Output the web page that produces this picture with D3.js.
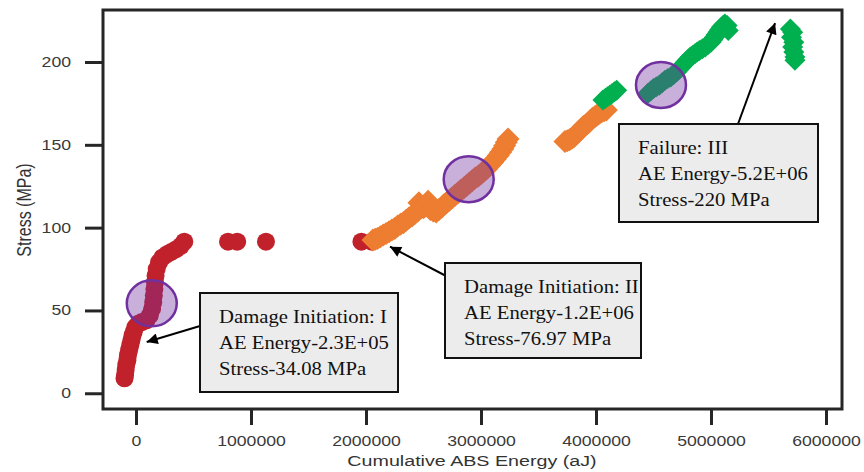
<!DOCTYPE html>
<html>
<head>
<meta charset="utf-8">
<script src="https://cdn.jsdelivr.net/npm/d3@7"></script>
<style>
  html, body { margin: 0; padding: 0; background: #fff; }
  svg { display: block; }
</style>
</head>
<body>
<svg id="chart" width="864" height="472"></svg>
<script>
// Stage I: damage initiation (cumulative ABS energy in aJ, stress in MPa)
const stageI = [
  [-100000, 9], [-95000, 11], [-90000, 14], [-85000, 17], [-75000, 20], [-70000, 23],
  [-60000, 26], [-50000, 29], [-40000, 32], [-30000, 35], [-20000, 37], [-5000, 40],
  [20000, 42], [50000, 43], [90000, 44], [120000, 47], [140000, 51], [150000, 55],
  [155000, 59], [160000, 63], [165000, 67], [170000, 71], [180000, 75], [200000, 79],
  [230000, 82], [270000, 84], [310000, 85.5], [350000, 87], [390000, 89], [420000, 91.5],
  [800000, 91.5], [880000, 91.5], [1130000, 91.5], [1960000, 91.5], [2050000, 91.5]
];

// Stage II: damage growth
const stageII = [
  [2060000, 92.5], [2080000, 93], [2100000, 93.5], [2125000, 94.5], [2150000, 95.5], [2175000, 96.5],
  [2200000, 97.5], [2225000, 98.5], [2250000, 99.5], [2275000, 101], [2300000, 102], [2325000, 103],
  [2350000, 104.5], [2375000, 106], [2400000, 107], [2425000, 108.5], [2450000, 110], [2460000, 115],
  [2480000, 112], [2500000, 112], [2520000, 113], [2540000, 116], [2560000, 111], [2585000, 110],
  [2610000, 109.5], [2635000, 111], [2660000, 112.5], [2680000, 114], [2700000, 115], [2725000, 116.5],
  [2750000, 118], [2775000, 119.5], [2800000, 121], [2825000, 122.5], [2850000, 124], [2875000, 125.5],
  [2900000, 127], [2925000, 128.5], [2950000, 130], [2975000, 131], [3000000, 132.5], [3025000, 134],
  [3050000, 135.5], [3075000, 137.5], [3100000, 139.5], [3125000, 141.5], [3150000, 143.5], [3170000, 145.5],
  [3190000, 147.5], [3205000, 149.5], [3220000, 151.5], [3235000, 153.5],
  [3730000, 152], [3750000, 152.5], [3770000, 153], [3790000, 154], [3810000, 155], [3830000, 156.5],
  [3850000, 158], [3870000, 159.5], [3890000, 161], [3910000, 162], [3930000, 163], [3950000, 164.5],
  [3970000, 166], [3990000, 167], [4010000, 168], [4030000, 169], [4050000, 170], [4070000, 170.5],
  [4090000, 171]
];

// Stage III: failure
const stageIII = [
  [4060000, 177], [4080000, 178], [4100000, 179], [4120000, 180], [4140000, 181], [4160000, 182],
  [4180000, 183],
  [4450000, 181], [4475000, 182.5], [4500000, 184], [4525000, 185], [4550000, 186], [4575000, 187.5],
  [4600000, 189], [4625000, 190], [4650000, 191], [4675000, 192.5], [4700000, 194], [4720000, 195.5],
  [4740000, 197], [4760000, 198.5], [4780000, 200], [4800000, 201.5], [4820000, 203], [4840000, 204],
  [4860000, 205], [4880000, 206], [4900000, 207], [4925000, 208], [4950000, 209], [4975000, 210.5],
  [5000000, 212], [5015000, 213.5], [5030000, 215], [5045000, 216.5], [5060000, 218], [5075000, 219.5],
  [5090000, 221], [5105000, 222], [5120000, 223], [5140000, 222], [5150000, 219],
  [5690000, 220], [5710000, 218], [5700000, 215], [5720000, 212], [5710000, 209], [5720000, 206],
  [5730000, 203], [5730000, 201]
];

// Highlighted transition regions
const transitionCenters = [[137000, 54.3], [2893000, 129.2], [4565000, 186.1]];

// Axis ticks
const xTicks = [0, 1000000, 2000000, 3000000, 4000000, 5000000, 6000000];
const yTicks = [0, 50, 100, 150, 200];

// Callout texts and the points they point to
const calloutLines = [
  ["Damage Initiation: I", "AE Energy-2.3E+05", "Stress-34.08 MPa"],
  ["Damage Initiation: II", "AE Energy-1.2E+06", "Stress-76.97 MPa"],
  ["Failure: III", "AE Energy-5.2E+06", "Stress-220 MPa"]
];
const calloutTargets = [[93000, 31], [2209000, 88.5], [5557000, 223.5]];

// ---- layout & style ----
const RED = "#c0212b", ORANGE = "#ed7d31", GREEN = "#00b04f";
const AXIS = "#262626";
const SANS = "'Liberation Sans', Arial, Helvetica, sans-serif";
const SERIF = "'Liberation Serif', 'Times New Roman', serif";
const STRETCH = 1.26;

const callouts = [
  { x: 200, y: 293, w: 198, h: 99, tail: [200, 326] },
  { x: 445, y: 263, w: 196, h: 95, tail: [448, 277] },
  { x: 619, y: 124, w: 199, h: 98, tail: [738, 124] }
];

const svg = d3.select("#chart");
const x = d3.scaleLinear().domain([-287000, 6139000]).range([103, 842]);
const y = d3.scaleLinear().domain([-9.5, 231.4]).range([409, 10]);

// axes
const gx = svg.append("g")
  .attr("transform", "translate(0,409)")
  .call(d3.axisBottom(x).tickValues(xTicks).tickFormat(d3.format("d"))
    .tickSize(16).tickPadding(11).tickSizeOuter(0));
gx.select(".domain").remove();
gx.selectAll(".tick line").attr("stroke", AXIS).attr("stroke-width", 3);
gx.selectAll(".tick text")
  .attr("font-family", SANS).attr("font-size", 14).attr("fill", "#3a3a3a")
  .attr("transform", `scale(${STRETCH},1)`);

const gy = svg.append("g")
  .attr("transform", "translate(103,0)")
  .call(d3.axisLeft(y).tickValues(yTicks).tickFormat(d3.format("d"))
    .tickSize(18).tickPadding(14).tickSizeOuter(0));
gy.select(".domain").remove();
gy.selectAll(".tick line").attr("stroke", AXIS).attr("stroke-width", 3);
gy.selectAll(".tick text")
  .attr("font-family", SANS).attr("font-size", 14).attr("fill", "#3a3a3a")
  .attr("x", -32 / STRETCH)
  .attr("transform", `scale(${STRETCH},1)`);

// plot frame
svg.append("rect")
  .attr("x", x.range()[0]).attr("y", y.range()[1])
  .attr("width", x.range()[1] - x.range()[0])
  .attr("height", y.range()[0] - y.range()[1])
  .attr("fill", "none").attr("stroke", AXIS).attr("stroke-width", 3);

// axis titles
svg.append("text")
  .attr("transform", `translate(472,466) scale(1.27,1)`)
  .attr("text-anchor", "middle")
  .attr("font-family", SANS).attr("font-size", 15.5).attr("fill", "#333")
  .text("Cumulative ABS Energy (aJ)");

svg.append("text")
  .attr("transform", "translate(24,210) rotate(-90) scale(1,1.25)")
  .attr("text-anchor", "middle").attr("dy", "0.35em")
  .attr("font-family", SANS).attr("font-size", 16).attr("fill", "#333")
  .text("Stress (MPa)");

// markers
const diamondType = {
  draw(ctx, size) {
    const h = Math.sqrt(size / 2);
    ctx.moveTo(0, -h); ctx.lineTo(h, 0); ctx.lineTo(0, h); ctx.lineTo(-h, 0); ctx.closePath();
  }
};

svg.append("g").selectAll("circle").data(stageI).join("circle")
  .attr("cx", d => x(d[0])).attr("cy", d => y(d[1])).attr("r", 9)
  .attr("fill", RED);

svg.append("g").selectAll("path").data(stageII).join("path")
  .attr("transform", d => `translate(${x(d[0])},${y(d[1])})`)
  .attr("d", d3.symbol(diamondType, 2 * 11.5 * 11.5))
  .attr("fill", ORANGE);

svg.append("g").selectAll("path").data(stageIII).join("path")
  .attr("transform", d => `translate(${x(d[0])},${y(d[1])})`)
  .attr("d", d3.symbol(diamondType, 2 * 10.5 * 10.5))
  .attr("fill", GREEN);

// transition highlights
svg.append("g").selectAll("ellipse").data(transitionCenters).join("ellipse")
  .attr("cx", d => x(d[0])).attr("cy", d => y(d[1]))
  .attr("rx", 25).attr("ry", 23)
  .attr("fill", "rgba(112,48,160,0.38)")
  .attr("stroke", "#7030a0").attr("stroke-width", 2.5);

// callouts
svg.append("defs").append("marker")
  .attr("id", "arrowhead").attr("viewBox", "0 0 10 10")
  .attr("refX", 10).attr("refY", 5)
  .attr("markerWidth", 15).attr("markerHeight", 11)
  .attr("markerUnits", "userSpaceOnUse").attr("orient", "auto")
  .append("path").attr("d", "M0,0L10,5L0,10Z").attr("fill", "#000");

const cg = svg.append("g");
callouts.forEach((c, i) => {
  const [tx, ty] = calloutTargets[i];
  cg.append("line")
    .attr("x1", c.tail[0]).attr("y1", c.tail[1])
    .attr("x2", x(tx)).attr("y2", y(ty))
    .attr("stroke", "#000").attr("stroke-width", 2)
    .attr("marker-end", "url(#arrowhead)");
  cg.append("rect")
    .attr("x", c.x).attr("y", c.y).attr("width", c.w).attr("height", c.h)
    .attr("fill", "#ececec").attr("stroke", "#111").attr("stroke-width", 2);
  calloutLines[i].forEach((line, j) => {
    cg.append("text")
      .attr("transform", `translate(${c.x + 19},${c.y + 30 + j * 26}) scale(1.09,1)`)
      .attr("font-family", SERIF).attr("font-size", 19).attr("fill", "#111")
      .text(line);
  });
});
</script>
</body>
</html>
